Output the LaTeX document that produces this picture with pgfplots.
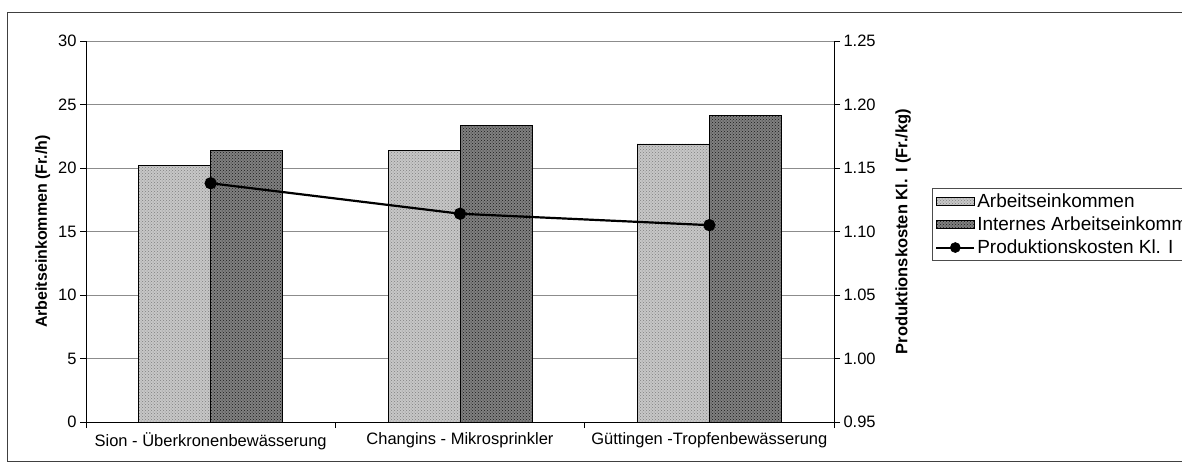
\documentclass[border=0pt]{standalone}
\usepackage{fontspec}
\setmainfont{Liberation Sans}
\usepackage{pgfplots}
\pgfplotsset{compat=1.18}
\usetikzlibrary{patterns}
\pgfplotsset{
  barlegend/.style={legend image code/.code={\draw[##1] (0pt,-4pt) rectangle (38pt,4pt);}},
  linelegend/.style={legend image code/.code={\draw[black, line width=2pt] (0pt,0pt) -- (38pt,0pt); \fill[black] (19pt,0pt) circle (5pt);}},
}

\pgfplotstableread{
x a b
0 20.2 21.4
1 21.4 23.35
2 21.9 24.15
}\bars
\pgfplotstableread{
x c
0 1.138
1 1.114
2 1.105
}\kosten

\begin{document}
\begin{tikzpicture}[x=1pt,y=1pt]
\path[use as bounding box] (0,0) rectangle (1182,466);
\draw[black!75, line width=0.9pt] (7,5) rectangle (1210,454);
\begin{axis}[
  at={(86pt,44pt)}, anchor=south west,
  width=748pt, height=381pt, scale only axis,
  xmin=-0.5, xmax=2.5, ymin=0, ymax=30,
  ytick={0,5,...,30},
  xtick={0,1,2},
  xticklabels={Sion - Überkronenbewässerung, Changins - Mikrosprinkler, Güttingen -Tropfenbewässerung},
  minor xtick={-0.5,0.5,1.5,2.5},
  major x tick style={draw=none},
  minor tick length=6pt, major tick length=6pt,
  tick align=outside,
  tick style={black, line width=0.6pt},
  axis x line*=bottom, axis y line*=left,
  axis line style={black, line width=0.8pt},
  ymajorgrids, grid style={black!45, line width=0.7pt},
  ybar=0pt, bar width=72pt,
  ticklabel style={font=\fontsize{16.5}{18}\selectfont},
  xticklabel style={yshift=-1pt},
  /pgf/number format/assume math mode=true,
  ylabel={\textbf{Arbeitseinkommen (Fr./h)}},
  ylabel style={font=\fontsize{16}{18}\selectfont, yshift=1pt},
  legend style={at={(1.131,0.614)}, anchor=north west, draw=black!70, line width=0.6pt,
    font=\fontsize{19}{20}\selectfont, row sep=4pt, inner sep=3pt, cells={anchor=west}},
  legend cell align=left,
]
\addplot[draw=black, line width=0.6pt, fill=black!22, barlegend,
  postaction={pattern=crosshatch dots, pattern color=black!50}] table[x=x,y=a] {\bars};
\addlegendentry{Arbeitseinkommen}
\addplot[draw=black, line width=0.6pt, fill=black!50, barlegend,
  postaction={pattern=crosshatch dots, pattern color=black!90}] table[x=x,y=b] {\bars};
\addlegendentry{Internes Arbeitseinkommen}
\addlegendimage{linelegend}
\addlegendentry{Produktionskosten Kl. I}
\end{axis}
\begin{axis}[
  at={(86pt,44pt)}, anchor=south west,
  width=748pt, height=381pt, scale only axis,
  xmin=-0.5, xmax=2.5, ymin=0.95, ymax=1.25,
  ytick={0.95,1,1.05,1.1,1.15,1.2,1.25},
  axis x line=none, axis y line*=right,
  axis line style={black, line width=0.9pt},
  tick align=outside, major tick length=6pt,
  tick style={black, line width=0.6pt},
  ticklabel style={font=\fontsize{16.5}{18}\selectfont},
  /pgf/number format/assume math mode=true,
  yticklabel style={/pgf/number format/.cd, fixed, fixed zerofill, precision=2},
  ylabel={\textbf{Produktionskosten Kl. I (Fr./kg)}},
  ylabel style={font=\fontsize{16.5}{18}\selectfont, yshift=-13pt},
]
\addplot[black, line width=2.2pt, mark=*, mark size=5pt] table[x=x,y=c] {\kosten};
\end{axis}
\end{tikzpicture}
\end{document}
